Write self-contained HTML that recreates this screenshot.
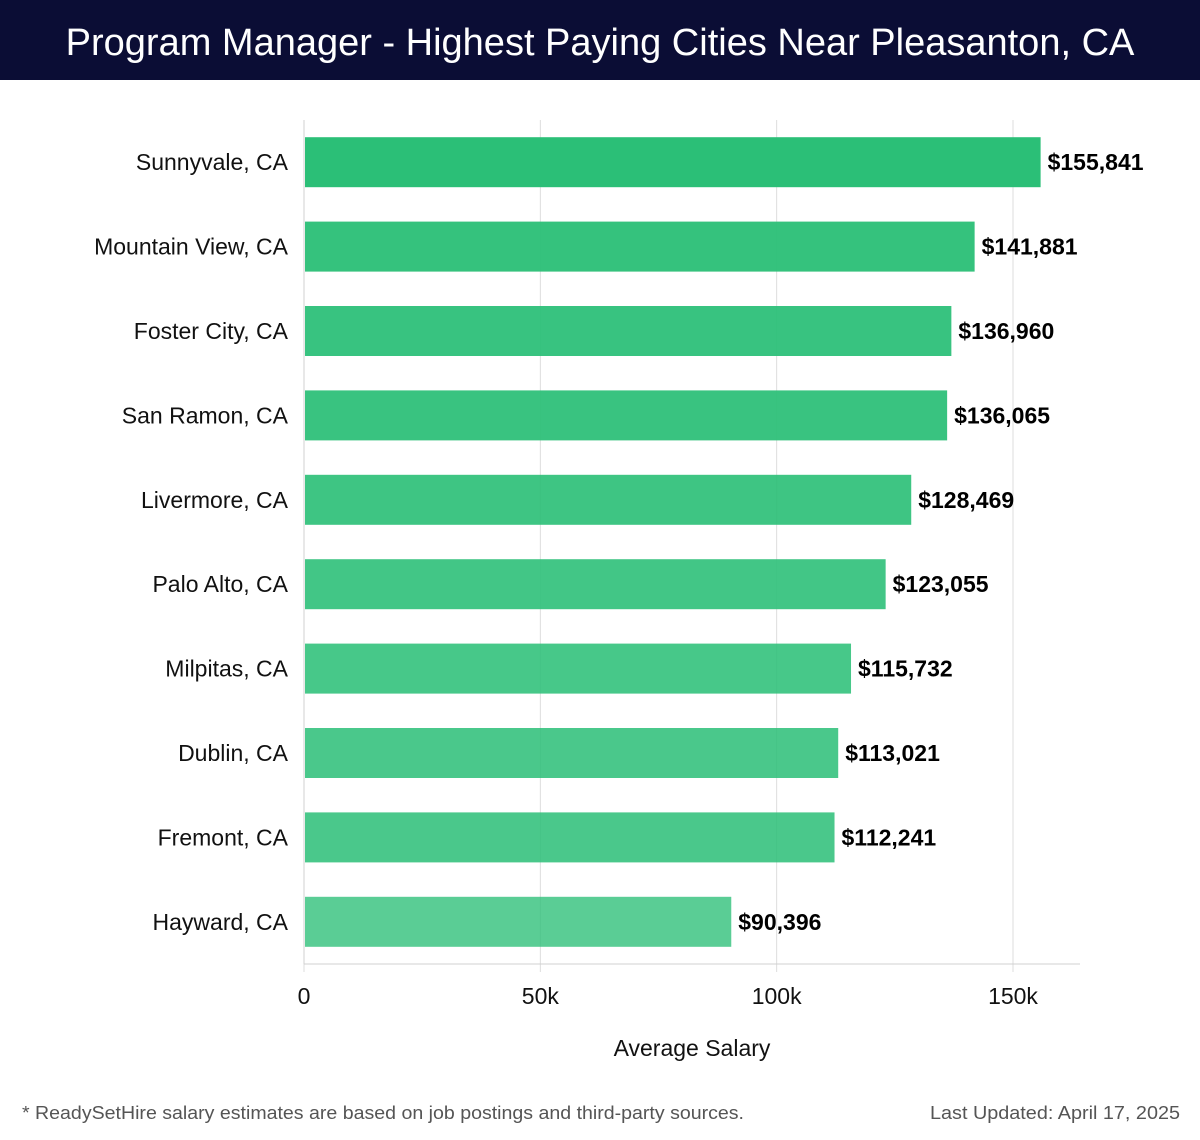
<!DOCTYPE html>
<html><head><meta charset="utf-8"><style>
html,body{margin:0;padding:0;background:#fff;width:1200px;height:1140px;overflow:hidden;font-family:"Liberation Sans","DejaVu Sans",sans-serif;}
#hdr{position:absolute;left:0;top:0;width:1200px;height:80px;background:#0b0d35;color:#fff;font-size:38px;text-align:center;line-height:86px;}
</style></head><body>
<div id="hdr">Program Manager - Highest Paying Cities Near Pleasanton, CA</div>
<svg id="chart" width="1200" height="1140" style="position:absolute;left:0;top:0;pointer-events:none"></svg>
<script>
const categories=["Sunnyvale, CA","Mountain View, CA","Foster City, CA","San Ramon, CA","Livermore, CA","Palo Alto, CA","Milpitas, CA","Dublin, CA","Fremont, CA","Hayward, CA"];
const salaries=[155841,141881,136960,136065,128469,123055,115732,113021,112241,90396];
const tickValues=[0,50000,100000,150000];
const tickLabels=["0","50k","100k","150k"];
const NS="http://www.w3.org/2000/svg";
const svg=document.getElementById('chart');
const x0=304,xScale=(1013-304)/150000,plotTop=120,band=84.4,barH=50,plotRight=1080,axisY=964;
const xs=v=>x0+v*xScale;
const yc=i=>plotTop+band*(i+0.5);
function mk(t,a){const e=document.createElementNS(NS,t);for(const k in a)e.setAttribute(k,a[k]);svg.appendChild(e);return e;}
tickValues.forEach((v,i)=>{
  const g=mk('line',{x1:xs(v),x2:xs(v),y1:plotTop,y2:axisY+8,stroke:'#dddddd','stroke-width':1});
  
  
  const t=mk('text',{x:xs(v),y:1004,'text-anchor':'middle','font-size':23,fill:'#111'});
  t.textContent=tickLabels[i];
  
  
});
const ax=mk('line',{x1:x0,x2:plotRight,y1:axisY,y2:axisY,stroke:'#d0d0d0','stroke-width':1});


const ay=mk('line',{x1:x0,x2:x0,y1:plotTop,y2:axisY,stroke:'#d0d0d0','stroke-width':1});


const mx=Math.max(...salaries),mn=Math.min(...salaries);
salaries.forEach((v,i)=>{
  const op=0.78+0.22*(v-mn)/(mx-mn);
  const r=mk('rect',{x:x0+1,y:yc(i)-barH/2,width:xs(v)-x0-1,height:barH,fill:'#2bbf77','fill-opacity':op});
  
  
  const l=mk('text',{x:288,y:yc(i)+8,'text-anchor':'end','font-size':23,fill:'#111'});
  l.textContent=categories[i];
  
  
  const vl=mk('text',{x:xs(v)+7,y:yc(i)+8,'font-size':23,'font-weight':'bold',fill:'#000'});
  vl.textContent='$'+v.toLocaleString('en-US');
  
  
});
const xt=mk('text',{x:692,y:1056,'text-anchor':'middle','font-size':23,fill:'#111'});
xt.textContent='Average Salary';


const f1=mk('text',{x:22,y:1119,'font-size':18,fill:'#555',textLength:722,lengthAdjust:'spacingAndGlyphs'});
f1.textContent='* ReadySetHire salary estimates are based on job postings and third-party sources.';


const f2=mk('text',{x:930,y:1119,'font-size':18,fill:'#555',textLength:250,lengthAdjust:'spacingAndGlyphs'});
f2.textContent='Last Updated: April 17, 2025';


</script>
</body></html>
